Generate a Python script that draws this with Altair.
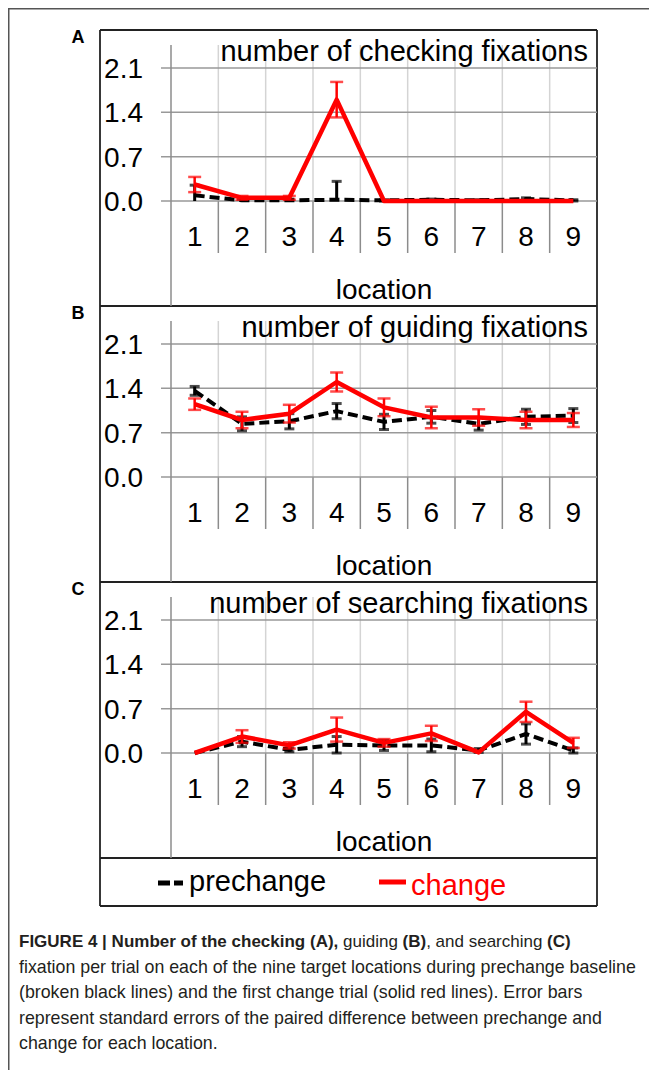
import altair as alt
import pandas as pd

# ---------------- data ----------------
locations = [1, 2, 3, 4, 5, 6, 7, 8, 9]
location_labels = ["1", "2", "3", "4", "5", "6", "7", "8", "9"]
y_ticks = [0.0, 0.7, 1.4, 2.1]
y_tick_labels = ["0.0", "0.7", "1.4", "2.1"]
band_edges = [1.5, 2.5, 3.5, 4.5, 5.5, 6.5, 7.5, 8.5]

panel_letters = ["A", "B", "C"]
panel_titles = ["number of checking fixations",
                "number of guiding fixations",
                "number of searching fixations"]
x_title = "location"
series_names = ["prechange", "change"]

checking_prechange = [0.09, 0.01, 0.01, 0.02, 0.01, 0.02, 0.01, 0.03, 0.01]
checking_prechange_se = [0.16, 0.02, 0.02, 0.29, 0.01, 0.01, 0.01, 0.02, 0.01]
checking_change = [0.26, 0.05, 0.05, 1.60, 0.00, 0.00, 0.00, 0.00, 0.00]
checking_change_se = [0.12, 0.03, 0.03, 0.28, 0.00, 0.00, 0.00, 0.00, 0.00]

guiding_prechange = [1.36, 0.84, 0.88, 1.04, 0.87, 0.95, 0.84, 0.95, 0.97]
guiding_prechange_se = [0.07, 0.11, 0.12, 0.12, 0.12, 0.10, 0.10, 0.12, 0.11]
guiding_change = [1.15, 0.90, 1.00, 1.50, 1.10, 0.94, 0.94, 0.90, 0.90]
guiding_change_se = [0.09, 0.13, 0.14, 0.15, 0.14, 0.17, 0.13, 0.13, 0.11]

searching_prechange = [0.00, 0.18, 0.05, 0.13, 0.12, 0.12, 0.04, 0.30, 0.04]
searching_prechange_se = [0.00, 0.08, 0.03, 0.13, 0.08, 0.10, 0.03, 0.16, 0.04]
searching_change = [0.00, 0.26, 0.12, 0.37, 0.16, 0.31, 0.01, 0.65, 0.16]
searching_change_se = [0.00, 0.10, 0.05, 0.19, 0.06, 0.12, 0.00, 0.16, 0.08]

caption_line1 = [("FIGURE 4 | Number of the checking (A),", True), (" guiding ", False),
                 ("(B)", True), (", and searching ", False), ("(C)", True)]
caption_lines = [
    "fixation per trial on each of the nine target locations during prechange baseline",
    "(broken black lines) and the first change trial (solid red lines). Error bars",
    "represent standard errors of the paired difference between prechange and",
    "change for each location.",
]

# ---------------- layout (positions written in page pixels) ----------------
FONT = "Liberation Sans"
W, H = 641, 1062
LEFT, TOP = 8, 8           # where the svg origin lands on the page


def PX(x):
    return x - LEFT


def PY(y):
    return y - TOP


PLOT_L, PLOT_R = 171, 597
panel_tops = [30, 306, 582]
RED = "#ff0000"
CAP_FONT = 17.8
CAP1_FONT = 17.0
CAP_COLOR = "#231f20"

XS = alt.Scale(domain=[0.5, 9.5], range=[PX(PLOT_L), PX(PLOT_R)], nice=False, zero=False)


def yscale(top):
    return alt.Scale(domain=[0, 2.1], range=[PY(top + 171), PY(top + 38)], nice=False,
                     zero=False)


one = pd.DataFrame({"k": [0]})


def vrule(x, y1, y2, color, sw):
    return alt.Chart(one).mark_rule(color=color, strokeWidth=sw).encode(
        x=alt.value(PX(x)), y=alt.value(PY(y1)), y2=alt.value(PY(y2)))


def hrule(y, x1, x2, color, sw, dash=None):
    kw = dict(color=color, strokeWidth=sw, strokeCap="butt")
    if dash:
        kw["strokeDash"] = dash
    return alt.Chart(one).mark_rule(**kw).encode(
        x=alt.value(PX(x1)), x2=alt.value(PX(x2)), y=alt.value(PY(y)))


def label(text, x, y, size, color="black", align="left", weight="normal"):
    return alt.Chart(pd.DataFrame({"t": [text]})).mark_text(
        font=FONT, fontSize=size, color=color, align=align, baseline="alphabetic",
        fontWeight=weight).encode(x=alt.value(PX(x)), y=alt.value(PY(y)), text="t:N")


def series_layers(values, ses, name, ys, color, lw, dash, ew, cap):
    df = pd.DataFrame({"location": locations, "value": values, "se": ses, "series": name})
    xenc = alt.X("location:Q", scale=XS, axis=None)
    line_kw = dict(color=color, strokeWidth=lw, strokeJoin="round")
    if dash:
        line_kw["strokeDash"] = dash
    line = alt.Chart(df).mark_line(**line_kw).encode(
        x=xenc, y=alt.Y("value:Q", scale=ys, axis=None))
    base = alt.Chart(df).transform_filter("datum.se > 0").transform_calculate(
        lo_raw="datum.value - datum.se", lo="max(0, datum.value - datum.se)",
        hi="datum.value + datum.se")
    err = base.mark_rule(color=color, strokeWidth=ew).encode(
        x=xenc, y=alt.Y("lo:Q", scale=ys, axis=None), y2="hi:Q")
    caps = base.transform_fold(["lo_raw", "hi"], as_=["end", "endval"]).transform_filter(
        "datum.endval >= 0").mark_tick(orient="horizontal", size=cap, thickness=ew,
                                       color=color).encode(
        x=xenc, y=alt.Y("endval:Q", scale=ys, axis=None))
    return [line, err, caps]


def panel(i, pre, pre_se, chg, chg_se):
    top = panel_tops[i]
    ys = yscale(top)
    zero = top + 171
    layers = []
    edges = pd.DataFrame({"b": band_edges})
    layers.append(alt.Chart(edges).mark_rule(color="#d4d4d4", strokeWidth=1.5).encode(
        x=alt.X("b:Q", scale=XS, axis=None), y=alt.value(PY(top + 15)), y2=alt.value(PY(zero))))
    layers.append(alt.Chart(edges).mark_rule(color="#8c8c8c", strokeWidth=1.5).encode(
        x=alt.X("b:Q", scale=XS, axis=None), y=alt.value(PY(zero)), y2=alt.value(PY(zero + 52))))
    ticks = pd.DataFrame({"t": y_ticks, "lab": y_tick_labels})
    layers.append(alt.Chart(ticks).mark_rule(color="#999999", strokeWidth=1.5).encode(
        y=alt.Y("t:Q", scale=ys, axis=None), x=alt.value(PX(161)), x2=alt.value(PX(PLOT_R))))
    layers.append(vrule(PLOT_L, top + 15, top + 276, "#8c8c8c", 1.5))
    layers.append(alt.Chart(ticks).mark_text(
        font=FONT, fontSize=28, align="right", baseline="alphabetic", dy=10,
        color="black").encode(x=alt.value(PX(143)), y=alt.Y("t:Q", scale=ys, axis=None),
                              text="lab:N"))
    xl = pd.DataFrame({"location": locations, "lab": location_labels})
    layers.append(alt.Chart(xl).mark_text(
        font=FONT, fontSize=28, align="center", baseline="alphabetic",
        color="black").encode(x=alt.X("location:Q", scale=XS, axis=None),
                              y=alt.value(PY(top + 216)), text="lab:N"))
    layers.append(label(x_title, (PLOT_L + PLOT_R) / 2, top + 269, 28, align="center"))
    layers.append(label(panel_titles[i], 588, top + 31, 29, align="right"))
    layers.append(label(panel_letters[i], 78, top + 13, 18, align="center", weight="bold"))
    layers += series_layers(pre, pre_se, series_names[0], ys, "black", 4, [10, 5], 3, 10)
    layers += series_layers(chg, chg_se, series_names[1], ys, RED, 4.5, None, 2.5, 13)
    return layers


layers = []
# outer figure frame
layers.append(hrule(TOP + 0.75, LEFT, LEFT + W, "#555555", 1.5))
layers.append(vrule(LEFT + 0.75, TOP, TOP + H, "#555555", 1.5))
# chart box
BX0, BY0, BY1 = 100, 30, 906
layers.append(hrule(BY0, BX0, PLOT_R, "#222222", 1.8))
layers.append(hrule(BY1, BX0, PLOT_R, "#222222", 1.8))
layers.append(vrule(BX0, BY0, BY1, "#222222", 1.8))
layers.append(vrule(PLOT_R, BY0, BY1, "#222222", 1.8))
for yy in [306, 582, 858]:
    layers.append(hrule(yy, BX0, PLOT_R, "#222222", 1.8))

layers += panel(0, checking_prechange, checking_prechange_se, checking_change, checking_change_se)
layers += panel(1, guiding_prechange, guiding_prechange_se, guiding_change, guiding_change_se)
layers += panel(2, searching_prechange, searching_prechange_se, searching_change, searching_change_se)

# legend
layers.append(hrule(883, 158, 183, "black", 5, dash=[12, 4]))
layers.append(label(series_names[0], 189, 891, 29))
layers.append(hrule(882, 379, 406, RED, 5))
layers.append(label(series_names[1], 411, 895, 29, color=RED))

# caption
REG = {' ': 278, '(': 333, ')': 333, ',': 278, 'a': 556, 'c': 500, 'd': 556, 'e': 556,
       'g': 556, 'h': 556, 'i': 222, 'n': 556, 'r': 333, 's': 500, 'u': 556}
BOLD = {' ': 278, 'F': 611, 'I': 278, 'G': 778, 'U': 722, 'R': 722, 'E': 667, '4': 556,
        '|': 280, 'N': 722, 'u': 611, 'm': 889, 'b': 611, 'e': 556, 'r': 389, 'o': 611,
        'f': 333, 't': 333, 'h': 611, 'c': 556, 'k': 556, 'i': 278, 'n': 611, 'g': 611,
        '(': 333, 'A': 722, ')': 333, ',': 278, 'B': 722, 'C': 722}

CAP_X = 19
cap_base = [947, 972.5, 998, 1023.5, 1049]
cx = CAP_X
for text, bold in caption_line1:
    table = BOLD if bold else REG
    lead = len(text) - len(text.lstrip(" "))
    cx += lead * table[' '] / 1000 * CAP1_FONT
    core = text.strip(" ")
    layers.append(label(core, cx, cap_base[0], CAP1_FONT, color=CAP_COLOR,
                        weight="bold" if bold else "normal"))
    cx += sum(table.get(ch, 556) for ch in core) / 1000 * CAP1_FONT
    trail = len(text) - len(text.rstrip(" "))
    cx += trail * table[' '] / 1000 * CAP1_FONT
for line, yb in zip(caption_lines, cap_base[1:]):
    layers.append(label(line, CAP_X, yb, CAP_FONT, color=CAP_COLOR))

chart = alt.layer(*layers).resolve_scale(y="independent").properties(
    width=W, height=H, padding=0, autosize=alt.AutoSizeParams(type="none")
).configure_view(strokeWidth=0)

chart.save("out.html", embed_options={"renderer": "svg", "actions": False})
